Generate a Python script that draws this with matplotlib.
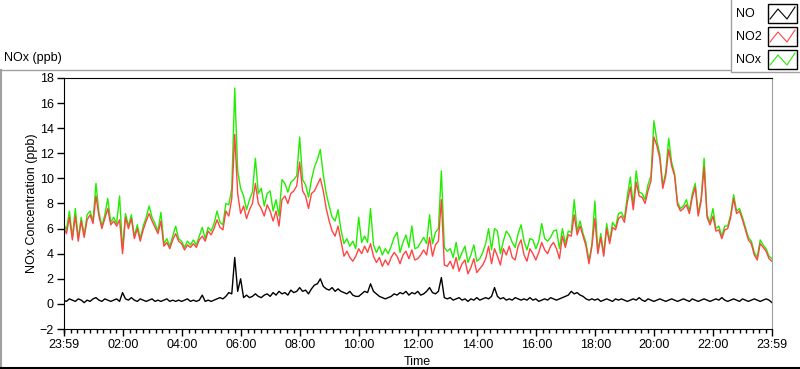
import matplotlib.pyplot as plt
import numpy as np
from matplotlib.lines import Line2D
from matplotlib.patches import Rectangle

plt.rcParams['font.family'] = ['Liberation Sans', 'DejaVu Sans']

# 数据: 每6分钟一个点, 从 23:59 开始, 共 24 小时
no2 = [6.1, 5.6, 6.9, 5.1, 7.0, 5.0, 6.6, 5.3, 6.7, 7.1,
       6.4, 8.6, 7.0, 6.0, 6.8, 7.6, 6.3, 6.6, 6.2, 6.7,
       4.0, 6.9, 6.0, 6.8, 5.2, 6.0, 5.0, 5.9, 6.6, 7.2,
       6.6, 6.1, 5.6, 6.6, 4.6, 4.9, 4.4, 5.1, 5.6, 5.0,
       4.8, 4.3, 4.7, 4.5, 4.8, 4.5, 5.1, 5.4, 5.0, 5.8,
       5.5, 6.0, 6.7, 6.1, 5.9, 7.4, 7.0, 8.4, 13.5, 8.8,
       7.2, 7.8, 6.8, 7.5, 8.0, 9.6, 8.0, 7.6, 7.0, 7.9,
       7.4, 6.6, 7.4, 6.2, 8.3, 8.6, 8.0, 8.8, 9.0, 9.4,
       11.3, 9.0, 8.6, 7.6, 8.8, 9.0, 9.5, 10.0, 9.0, 7.6,
       6.6, 5.8, 5.4, 6.2, 5.0, 3.8, 4.2, 3.7, 3.4, 3.8,
       4.4, 4.0, 4.6, 4.1, 4.8, 3.8, 3.3, 3.7, 3.0, 3.5,
       3.1, 3.7, 4.1, 3.8, 3.2, 3.9, 4.2, 3.6, 4.3, 3.5,
       3.6, 3.9, 4.3, 3.9, 5.3, 3.8, 4.7, 5.0, 8.3, 3.1,
       3.0, 3.4, 2.8, 3.7, 2.6, 3.2, 3.5, 2.4, 2.9, 3.6,
       2.5, 2.8, 3.1, 3.6, 4.6, 3.2, 4.4, 3.8, 3.1, 4.4,
       3.9, 4.6, 3.7, 3.5, 4.6, 5.1, 3.9, 3.4, 4.4, 4.0,
       3.5, 4.1, 4.9, 4.3, 4.0, 4.6, 4.9, 4.4, 3.6, 5.4,
       4.5, 5.5, 5.4, 7.1, 5.5, 6.2, 5.4, 4.6, 3.2, 4.6,
       6.8, 4.0, 5.3, 3.8, 6.0, 4.8, 6.1, 5.9, 6.8, 7.0,
       6.5, 8.1, 9.3, 7.5, 9.7, 8.6, 8.5, 8.0, 9.0, 9.8,
       13.3, 12.6, 11.6, 9.2, 10.2, 12.3, 11.0, 10.2, 7.9, 7.4,
       7.6, 7.9, 7.2, 8.5, 9.3, 7.0, 8.2, 10.9, 6.9, 6.3,
       7.0, 5.8, 5.9, 5.2, 5.9, 6.0, 6.9, 8.4, 7.2, 7.4,
       6.7, 5.9, 5.1, 4.8, 3.9, 3.5, 4.8, 4.5, 4.2, 3.6,
       3.4]

nox = [6.4, 5.9, 7.4, 5.3, 7.6, 5.2, 6.9, 5.5, 7.1, 7.4,
       6.6, 9.6, 7.3, 6.2, 7.1, 8.4, 6.5, 6.9, 6.4, 8.6,
       4.3, 7.2, 6.2, 7.1, 5.4, 6.3, 5.2, 6.2, 6.9, 7.8,
       6.9, 6.4, 5.8, 7.3, 4.8, 5.2, 4.6, 5.4, 6.2, 5.2,
       5.0, 4.5, 5.0, 4.7, 5.1, 4.7, 5.4, 6.1, 5.2, 6.1,
       5.8, 6.4, 7.4, 6.5, 6.3, 8.0, 7.9, 9.2, 17.2, 10.6,
       9.2, 8.6, 7.5, 8.3, 8.9, 11.6, 8.8, 9.2, 7.8, 8.8,
       9.0, 7.4, 8.3, 7.0, 9.9, 9.6, 8.9, 9.7, 9.9, 10.2,
       13.3, 9.9, 9.5, 8.5, 9.9, 10.9, 11.5, 12.3, 10.3, 8.8,
       7.8, 6.9, 6.6, 7.5, 5.9, 4.8, 5.2, 4.6, 5.0, 4.4,
       6.9, 4.9, 5.4, 4.9, 7.6, 4.7, 4.1, 4.6, 3.9, 4.4,
       4.0, 4.6, 5.3, 5.7, 4.1, 4.9, 5.5, 4.5, 6.2, 4.4,
       4.5, 4.9, 5.3, 4.8, 7.1, 4.8, 5.7, 6.0, 10.6, 4.5,
       4.2, 4.4, 3.7, 4.9, 3.5, 4.1, 4.6, 3.3, 3.9, 4.7,
       3.4, 3.6, 4.1, 4.8, 6.0, 4.3, 6.0, 5.8, 4.0, 5.0,
       5.8, 5.5, 4.9, 4.5, 5.6, 6.3, 5.0, 4.3, 5.2, 5.1,
       4.4, 5.0, 6.4, 5.2, 5.0, 5.3, 5.8, 5.9, 4.4, 6.0,
       4.8, 5.8, 5.7, 8.3, 5.8, 6.6, 5.6, 4.9, 3.4, 4.8,
       8.2, 4.2, 5.6, 4.0, 6.4, 5.0, 6.5, 6.1, 7.2, 7.3,
       6.8, 8.6, 10.1, 7.8, 10.6, 8.9, 8.8, 8.3, 9.5, 10.2,
       14.6, 13.0, 11.9, 9.4, 10.5, 13.2, 11.3, 10.4, 8.1, 7.6,
       7.8, 8.3, 7.4, 8.8, 9.6, 7.2, 8.4, 11.6, 7.1, 6.5,
       7.6, 6.0, 6.2, 5.4, 6.2, 6.2, 7.1, 8.7, 7.4, 7.6,
       6.9, 6.1, 5.3, 5.0, 4.1, 3.7, 5.1, 4.7, 4.4, 3.8,
       3.6]

no = [0.3, 0.2, 0.4, 0.3, 0.2, 0.4, 0.3, 0.1, 0.3, 0.2,
      0.4, 0.5, 0.3, 0.2, 0.4, 0.3, 0.2, 0.3, 0.4, 0.2,
      0.9, 0.4, 0.3, 0.5, 0.3, 0.2, 0.4, 0.3, 0.2, 0.3,
      0.4, 0.2, 0.3, 0.2, 0.3, 0.4, 0.2, 0.3, 0.2, 0.3,
      0.2, 0.3, 0.4, 0.2, 0.3, 0.2, 0.3, 0.7, 0.2, 0.3,
      0.2, 0.3, 0.4, 0.5, 0.4, 0.6, 0.9, 0.8, 3.7, 1.0,
      2.0, 0.5, 0.7, 0.5, 0.6, 0.8, 0.6, 0.5, 0.7, 0.8,
      0.6, 0.9, 0.7, 1.0, 0.8, 0.9, 0.7, 1.1, 0.9, 1.0,
      1.3, 1.0, 1.1, 0.8, 1.2, 1.5, 1.6, 2.0, 1.4, 1.2,
      1.1, 1.3, 1.0, 1.2, 1.0, 0.9, 0.8, 1.0, 0.7, 0.6,
      0.6, 0.8, 1.0, 0.9, 1.6, 1.0, 0.8, 0.6, 0.5, 0.4,
      0.5, 0.6, 0.8, 0.7, 0.9, 0.8, 1.0, 0.7, 0.9, 0.8,
      1.0, 0.7, 0.8, 1.0, 1.3, 0.9, 0.8, 1.0, 2.1, 0.5,
      0.4, 0.5, 0.3, 0.4, 0.5, 0.3, 0.4, 0.2, 0.4, 0.3,
      0.5, 0.3, 0.4, 0.5, 0.4, 0.6, 1.3, 0.6, 0.4, 0.5,
      0.3, 0.4, 0.3, 0.5, 0.4, 0.3, 0.4, 0.3, 0.5, 0.3,
      0.4, 0.2, 0.3, 0.4, 0.3, 0.5, 0.4, 0.3, 0.4, 0.5,
      0.6, 0.7, 1.0, 0.8, 0.9, 0.7, 0.6, 0.4, 0.3, 0.4,
      0.3, 0.4, 0.2, 0.3, 0.4, 0.3, 0.2, 0.4, 0.3, 0.4,
      0.3, 0.2, 0.3, 0.4, 0.3, 0.5, 0.3, 0.2, 0.4, 0.3,
      0.2, 0.3, 0.4, 0.3, 0.2, 0.3, 0.4, 0.3, 0.2, 0.3,
      0.4, 0.3, 0.2, 0.4, 0.3, 0.2, 0.3, 0.4, 0.3, 0.2,
      0.3, 0.4, 0.3, 0.5, 0.3, 0.2, 0.3, 0.4, 0.3, 0.2,
      0.4, 0.3, 0.2, 0.3, 0.4, 0.3, 0.2, 0.3, 0.4, 0.3,
      0.1]

x_labels = ['23:59', '02:00', '04:00', '06:00', '08:00', '10:00', '12:00',
            '14:00', '16:00', '18:00', '20:00', '22:00', '23:59']
series_names = ['NO', 'NO2', 'NOx']
series_colors = ['#000000', '#ff4444', '#22ee00']

W, H = 800, 369


def fx(px):
    return px / W


def fy(py):
    return 1 - py / H


fig = plt.figure(figsize=(W / 100, H / 100), dpi=100)
fig.patch.set_facecolor('white')

# 绘图区
ax = fig.add_axes([fx(63.5), fy(329), fx(772) - fx(63.5), fy(78) - fy(329)])
t = np.arange(len(no2)) * 6.0
ax.plot(np.arange(len(nox)) * 6.0, nox, color=series_colors[2], lw=1)
ax.plot(t, no2, color=series_colors[1], lw=1)
ax.plot(np.arange(len(no)) * 6.0, no, color=series_colors[0], lw=1)

ax.set_xlim(0, 1440)
ax.set_ylim(-2, 18)

# 坐标轴刻度
major = [0] + [121 + 120 * k for k in range(11)] + [1440]
ax.set_xticks(major)
ax.set_xticklabels(x_labels)
minor = [121 + k * 120 / 9 for k in range(-9, 100)]
minor = [m for m in minor if 0 < m < 1440]
ax.set_xticks(minor, minor=True)
ax.set_yticks(np.arange(-2, 19, 2))
ax.tick_params(axis='both', which='major', labelsize=9, direction='out', length=5, width=1, pad=2)
ax.tick_params(axis='x', which='minor', direction='out', length=3, width=1)
ax.tick_params(axis='y', which='minor', left=False)

for s in ['left', 'top', 'bottom']:
    ax.spines[s].set_color('black')
ax.spines['right'].set_color('#a0a0a0')

ax.set_xlabel('Time', fontsize=9, labelpad=4)
ax.set_ylabel('NOx Concentration (ppb)', fontsize=9, labelpad=1)

# 外框
fig.add_artist(Line2D([fx(0), fx(730)], [fy(69.5), fy(69.5)], transform=fig.transFigure, color='#a0a0a0', lw=1))
fig.add_artist(Line2D([fx(1), fx(1)], [fy(69.5), fy(367.5)], transform=fig.transFigure, color='#a0a0a0', lw=1.5))
fig.add_artist(Line2D([fx(0), fx(800)], [fy(367.5), fy(367.5)], transform=fig.transFigure, color='black', lw=1.5))
fig.text(fx(4), fy(58), 'NOx (ppb)', fontsize=9, va='center', ha='left')

# 图例
fig.add_artist(Line2D([fx(730.5), fx(730.5), fx(800)], [fy(0), fy(71.5), fy(71.5)], transform=fig.transFigure, color='#a0a0a0', lw=1))
for k, (name, c) in enumerate(zip(series_names, series_colors)):
    top = 4 + 23 * k
    fig.text(fx(736), fy(top + 10), name, fontsize=9, va='center', ha='left')
    fig.add_artist(Rectangle((fx(768), fy(top + 19)), fx(29), fy(top) - fy(top + 19),
                             transform=fig.transFigure, fill=False, edgecolor='black', lw=1))
    fig.add_artist(Line2D([fx(770), fx(778), fx(787), fx(795)],
                          [fy(top + 15), fy(top + 5), fy(top + 15), fy(top + 3)],
                          transform=fig.transFigure, color=c, lw=0.8))

fig.savefig('out.png', dpi=100, facecolor='white')
